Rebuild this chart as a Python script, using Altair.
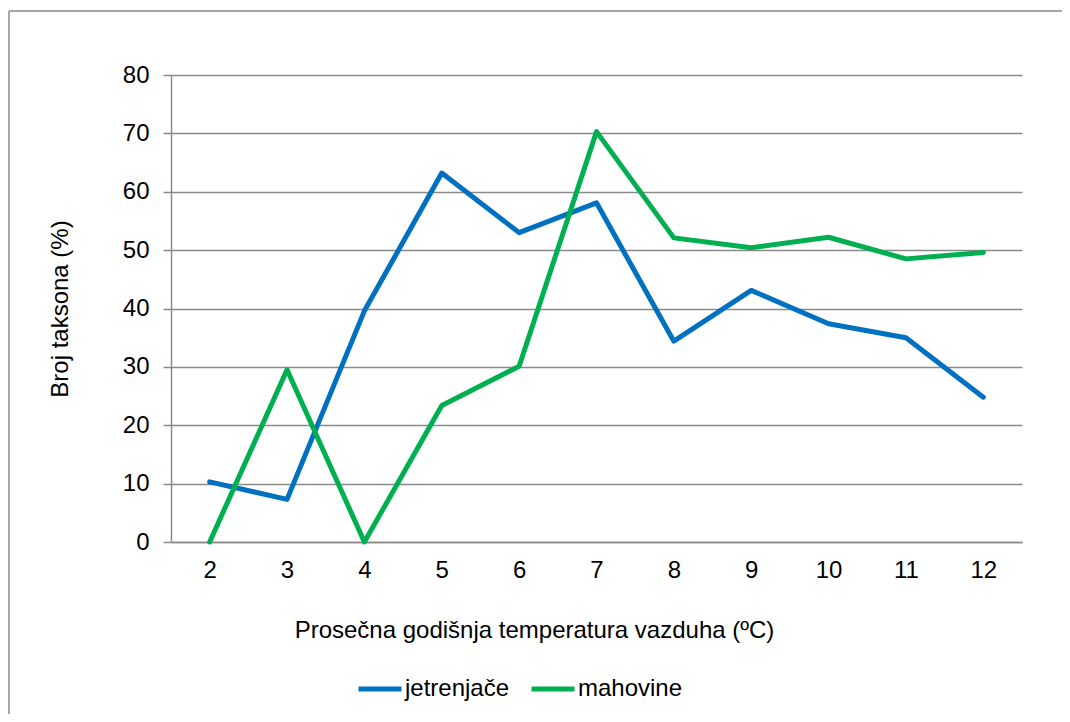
import altair as alt
import pandas as pd

temps = ["2", "3", "4", "5", "6", "7", "8", "9", "10", "11", "12"]
jetrenjace = [10.3, 7.3, 39.6, 63.2, 53.0, 58.1, 34.4, 43.1, 37.4, 35.0, 24.8]
mahovine = [0.0, 29.5, 0.0, 23.4, 30.1, 70.3, 52.1, 50.4, 52.2, 48.5, 49.6]
series = ["jetrenjače", "mahovine"]
colors = ["#0070C0", "#00B050"]
y_ticks = [0, 10, 20, 30, 40, 50, 60, 70, 80]

rows = []
for name, vals in zip(series, [jetrenjace, mahovine]):
    for t, v in zip(temps, vals):
        rows.append({"temp": t, "value": v, "series": name})
df = pd.DataFrame(rows)

FONT = "Liberation Sans"
GRID = "#8a8a8a"

lines = alt.Chart(df).mark_line(strokeWidth=5, strokeJoin="round", strokeCap="round").encode(
    x=alt.X("temp:O", sort=temps,
            axis=alt.Axis(title="Prosečna godišnja  temperatura vazduha (ºC)", labelAngle=0,
                          ticks=False, labelPadding=16, titlePadding=36,
                          titleX=363, titleAlign="center",
                          domainColor=GRID, domainWidth=1.5)),
    y=alt.Y("value:Q", scale=alt.Scale(domain=[0, 80], nice=False),
            axis=alt.Axis(title="Broj taksona (%)", values=y_ticks, tickSize=8,
                          tickColor=GRID, tickWidth=1.5, labelPadding=14, titlePadding=50,
                          gridColor=GRID, gridWidth=1.5, domainColor=GRID, domainWidth=1.5)),
    color=alt.Color("series:N", scale=alt.Scale(domain=series, range=colors),
                    legend=alt.Legend(title=None, orient="none", legendX=185, legendY=590,
                                      direction="horizontal", symbolType="stroke",
                                      symbolSize=1849, symbolStrokeWidth=5,
                                      labelFontSize=24, labelFont=FONT, labelColor="#000000",
                                      labelOffset=1, columnPadding=11)),
)

frame = pd.DataFrame({"a": [0]})
left_edge = alt.Chart(frame).mark_rule(stroke="#8a8a8a", strokeWidth=1.5).encode(
    x=alt.value(-162), y=alt.value(-64), y2=alt.value(650)
)
top_edge = alt.Chart(frame).mark_rule(stroke="#8a8a8a", strokeWidth=1.5).encode(
    x=alt.value(-162), x2=alt.value(893), y=alt.value(-64)
)

chart = alt.layer(left_edge, top_edge, lines).properties(
    width=851, height=467,
    autosize=alt.AutoSizeParams(type="none"),
    padding={"left": 163, "top": 67, "right": 40, "bottom": 172},
).configure_view(stroke=None).configure_axis(
    labelFont=FONT, titleFont=FONT, labelFontSize=24, titleFontSize=24,
    labelColor="#000000", titleColor="#000000", titleFontWeight="normal",
    grid=True,
).configure_axisX(grid=False)

chart.save("out.html", embed_options={"renderer": "svg", "actions": False})
